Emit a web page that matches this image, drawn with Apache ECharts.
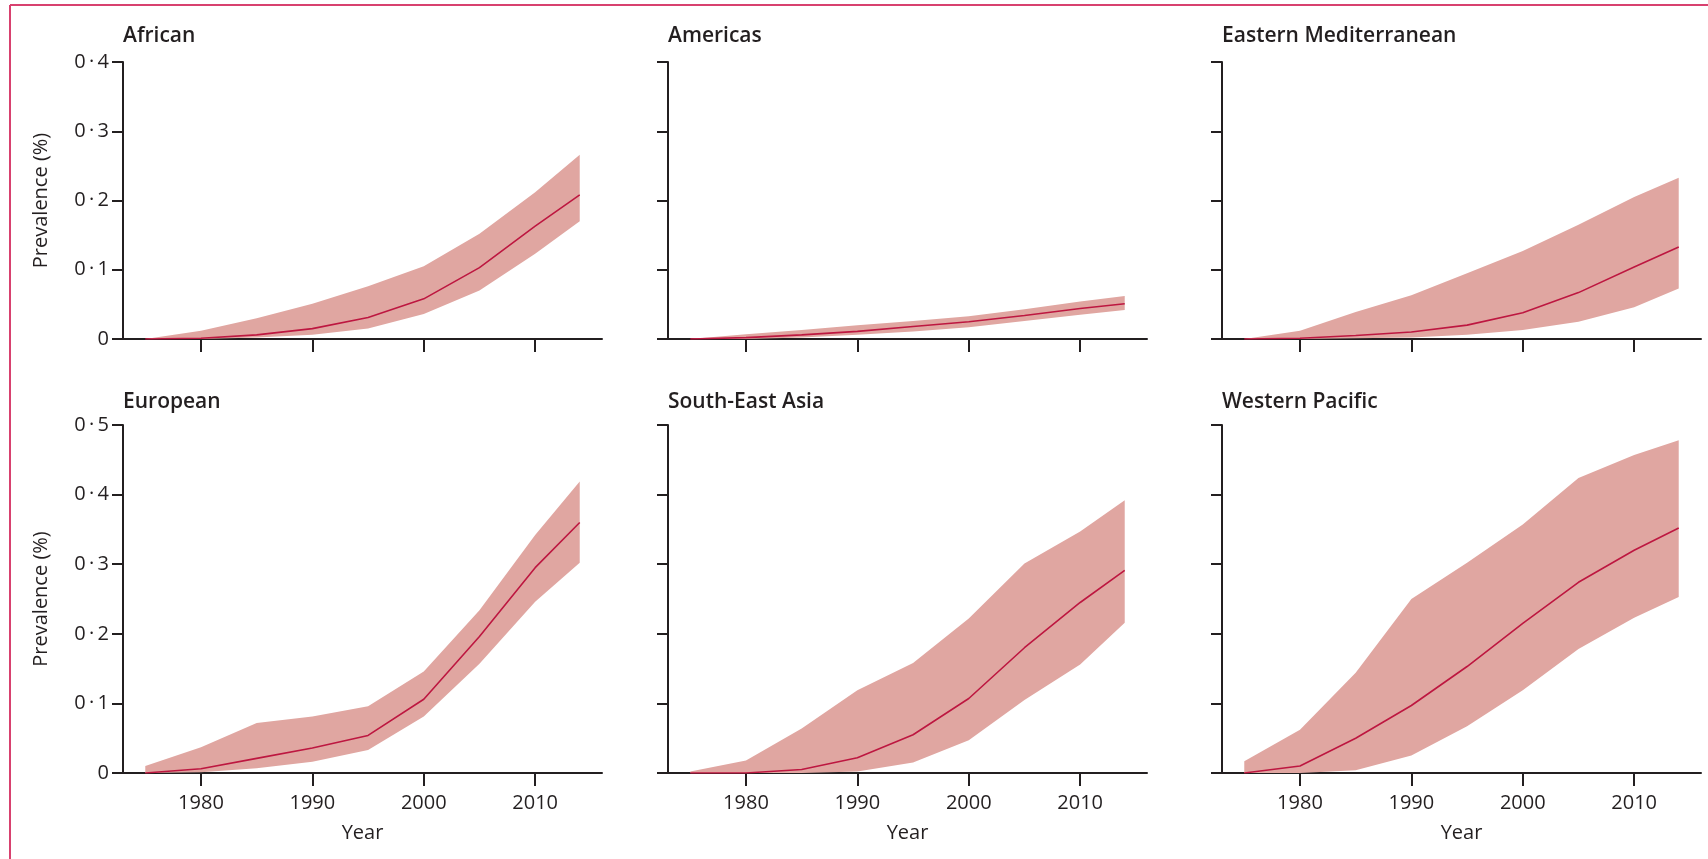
<!DOCTYPE html>
<html>
<head>
<meta charset="utf-8">
<title>Prevalence by WHO region</title>
<script src="https://cdn.jsdelivr.net/npm/echarts@6/dist/echarts.min.js"></script>
<style>
  html, body { margin: 0; padding: 0; background: #ffffff; }
  #chart { width: 1708px; height: 859px; }
</style>
</head>
<body>
<div id="chart"></div>
<script>
// Survey years (5-yearly estimates, last point 2014)
const years = [1975, 1980, 1985, 1990, 1995, 2000, 2005, 2010, 2014];

// Prevalence (%) by region: central estimate and uncertainty bounds
const africanMean   = [0, 0.001, 0.006, 0.015, 0.031, 0.058, 0.103, 0.163, 0.208];
const africanUpper  = [0, 0.012, 0.030, 0.051, 0.076, 0.105, 0.152, 0.212, 0.266];
const africanLower  = [0, 0, 0.002, 0.006, 0.015, 0.036, 0.070, 0.123, 0.170];

const americasMean  = [0, 0.002, 0.006, 0.011, 0.018, 0.025, 0.034, 0.044, 0.051];
const americasUpper = [0, 0.007, 0.013, 0.020, 0.026, 0.033, 0.043, 0.054, 0.062];
const americasLower = [0, 0, 0.002, 0.006, 0.011, 0.017, 0.026, 0.035, 0.042];

const emedMean      = [0, 0.001, 0.005, 0.010, 0.020, 0.038, 0.067, 0.104, 0.133];
const emedUpper     = [0, 0.012, 0.039, 0.063, 0.095, 0.127, 0.165, 0.205, 0.233];
const emedLower     = [0, 0, 0.001, 0.002, 0.006, 0.013, 0.025, 0.046, 0.073];

const europeanMean  = [0, 0.006, 0.021, 0.036, 0.054, 0.106, 0.196, 0.295, 0.360];
const europeanUpper = [0.010, 0.037, 0.072, 0.081, 0.096, 0.146, 0.234, 0.342, 0.419];
const europeanLower = [0, 0.001, 0.007, 0.016, 0.033, 0.081, 0.157, 0.246, 0.302];

const seaMean       = [0, 0, 0.005, 0.022, 0.055, 0.107, 0.180, 0.245, 0.291];
const seaUpper      = [0.002, 0.018, 0.064, 0.119, 0.158, 0.222, 0.301, 0.347, 0.392];
const seaLower      = [0, 0, 0, 0.002, 0.015, 0.047, 0.105, 0.156, 0.216];

const wpMean        = [0, 0.010, 0.050, 0.097, 0.153, 0.215, 0.274, 0.320, 0.352];
const wpUpper       = [0.017, 0.062, 0.144, 0.250, 0.302, 0.357, 0.424, 0.457, 0.478];
const wpLower       = [0, 0, 0.004, 0.025, 0.067, 0.119, 0.178, 0.223, 0.253];

const regionNames = ['African', 'Americas', 'Eastern Mediterranean',
                     'European', 'South-East Asia', 'Western Pacific'];
const yearTicks = [1980, 1990, 2000, 2010];
const yMaxByRow = [0.4, 0.5];
const yTitle = 'Prevalence (%)';
const xTitle = 'Year';

const panels = [
  { mean: africanMean,  upper: africanUpper,  lower: africanLower },
  { mean: americasMean, upper: americasUpper, lower: americasLower },
  { mean: emedMean,     upper: emedUpper,     lower: emedLower },
  { mean: europeanMean, upper: europeanUpper, lower: europeanLower },
  { mean: seaMean,      upper: seaUpper,      lower: seaLower },
  { mean: wpMean,       upper: wpUpper,       lower: wpLower }
];

// Layout of the 2 x 3 panel grid (pixels)
const colLeft   = [123, 668, 1222];
const colWidth  = 479;
const rowTop    = [62, 425];
const rowHeight = [277, 348];
const titleTop  = [21, 387];

const INK = '#231f20';
const LINE_RED = '#bd1740';
const BAND = '#e0a6a1';
const FONT = '"Open Sans", "Liberation Sans", sans-serif';

// 0.1 -> "0·1" (decimal point set as a spaced middle dot)
function fmtY(v) {
  if (v === 0) return '0';
  return v.toFixed(1).replace('.', '\u2009\u00b7\u2009');
}

const grids = [], xAxes = [], yAxes = [], titles = [], series = [];

panels.forEach((p, i) => {
  const row = Math.floor(i / 3), col = i % 3;
  const firstCol = col === 0, bottomRow = row === 1;

  grids.push({ left: colLeft[col], top: rowTop[row], width: colWidth, height: rowHeight[row] });

  titles.push({
    text: regionNames[i],
    left: colLeft[col] - 5,
    top: titleTop[row],
    textStyle: { fontFamily: FONT, fontSize: 21, fontWeight: 600, color: INK }
  });

  xAxes.push({
    type: 'value', gridIndex: i, min: 1973, max: 2016,
    axisLine: { show: true, onZero: false, lineStyle: { color: INK, width: 2 } },
    axisTick: { show: true, length: 13, lineStyle: { color: INK, width: 2 }, customValues: yearTicks },
    axisLabel: {
      show: bottomRow, customValues: yearTicks, margin: 20,
      fontFamily: FONT, fontSize: 20, color: INK, formatter: v => String(v)
    },
    splitLine: { show: false },
    name: bottomRow ? xTitle : '',
    nameLocation: 'middle', nameGap: 50,
    nameTextStyle: { fontFamily: FONT, fontSize: 20, color: INK }
  });

  yAxes.push({
    type: 'value', gridIndex: i, min: 0, max: yMaxByRow[row], interval: 0.1,
    axisLine: { show: true, lineStyle: { color: INK, width: 2 } },
    axisTick: { show: true, length: 11, lineStyle: { color: INK, width: 2 } },
    axisLabel: {
      show: firstCol, margin: 14, fontFamily: FONT, fontSize: 20, color: INK, formatter: fmtY
    },
    splitLine: { show: false },
    name: firstCol ? yTitle : '',
    nameLocation: 'middle', nameGap: 72,
    nameTextStyle: { fontFamily: FONT, fontSize: 20, color: INK }
  });

  // uncertainty band: polygon along the upper bound and back along the lower bound
  series.push({
    type: 'custom', xAxisIndex: i, yAxisIndex: i, silent: true, z: 1,
    data: years.map((y, k) => [y, p.upper[k]]),
    renderItem: (params, api) => {
      if (params.dataIndex !== 0) return null;
      const pts = [];
      for (let k = 0; k < years.length; k++) pts.push(api.coord([years[k], p.upper[k]]));
      for (let k = years.length - 1; k >= 0; k--) pts.push(api.coord([years[k], p.lower[k]]));
      return { type: 'polygon', shape: { points: pts }, style: { fill: BAND } };
    }
  });
  // central estimate
  series.push({
    type: 'line', xAxisIndex: i, yAxisIndex: i,
    data: years.map((y, k) => [y, p.mean[k]]),
    symbol: 'none', lineStyle: { color: LINE_RED, width: 1.6 }, z: 3
  });
});

const chart = echarts.init(document.getElementById('chart'), null, { renderer: 'canvas' });
chart.setOption({
  animation: false,
  backgroundColor: '#ffffff',
  title: titles,
  grid: grids,
  xAxis: xAxes,
  yAxis: yAxes,
  series: series,
  graphic: [
    { type: 'line', shape: { x1: 10, y1: 5, x2: 1708, y2: 5 }, style: { stroke: '#d8416f', lineWidth: 2 } },
    { type: 'line', shape: { x1: 10, y1: 5, x2: 10, y2: 859 }, style: { stroke: '#d8416f', lineWidth: 2 } }
  ]
});
</script>
</body>
</html>
